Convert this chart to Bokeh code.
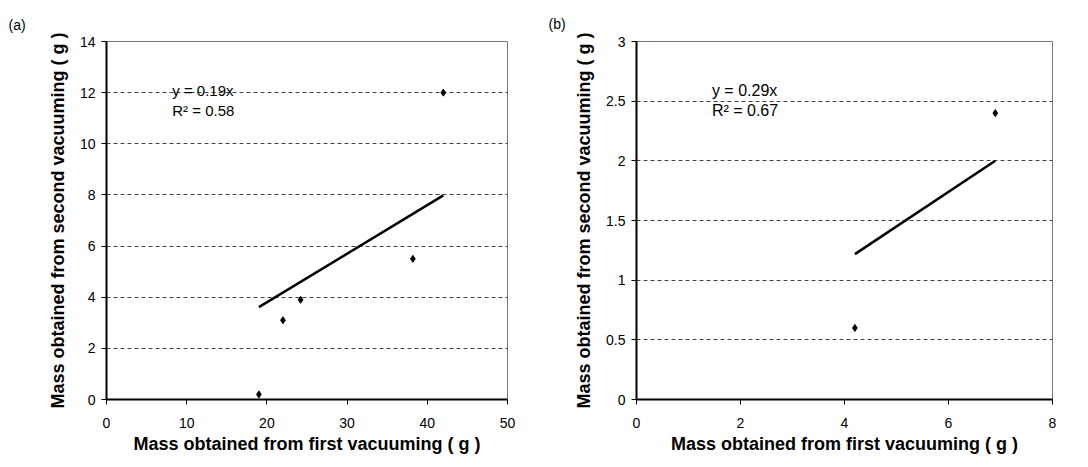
from bokeh.plotting import figure
from bokeh.layouts import row
from bokeh.models import Label, FixedTicker
from bokeh.embed import file_html
from bokeh.resources import INLINE

# Panel (a): first vs second vacuuming mass
a_first = [19.0, 22.0, 24.2, 38.2, 42.0]
a_second = [0.2, 3.1, 3.9, 5.5, 12.0]
a_slope = 0.19
a_r2 = 0.58
a_xticks = [0, 10, 20, 30, 40, 50]
a_yticks = [0, 2, 4, 6, 8, 10, 12, 14]

# Panel (b)
b_first = [4.2, 6.9]
b_second = [0.6, 2.4]
b_slope = 0.29
b_r2 = 0.67
b_xticks = [0, 2, 4, 6, 8]
b_yticks = [0, 0.5, 1, 1.5, 2, 2.5, 3]

FONT = "Liberation Sans"


def panel(xs, ys, slope, r2, xticks, yticks, tag, tag_y, eq_pos, eq_size, width, borders):
    left, right, top, bottom = borders
    p = figure(width=width, height=467, output_backend="svg", toolbar_location=None,
               x_range=(xticks[0], xticks[-1]), y_range=(yticks[0], yticks[-1]),
               min_border_left=left, min_border_right=right,
               min_border_top=top, min_border_bottom=bottom,
               title=tag)
    p.background_fill_color = "white"
    p.border_fill_color = "white"
    p.outline_line_color = "#777777"
    p.outline_line_width = 1

    # panel tag sits in the top-left corner of the canvas
    p.title.align = "left"
    p.title.offset = 8 - left
    p.title.text_font = FONT
    p.title.text_font_size = "14px"
    p.title.text_font_style = "normal"
    p.title.text_color = "black"
    p.title.standoff = top - tag_y - 2

    p.xgrid.grid_line_color = None
    p.ygrid.grid_line_color = "#444444"
    p.ygrid.grid_line_dash = "4 3"
    p.ygrid.grid_line_width = 1

    p.xaxis.ticker = FixedTicker(ticks=xticks)
    p.yaxis.ticker = FixedTicker(ticks=yticks)
    for ax in (p.xaxis, p.yaxis):
        ax.axis_line_color = "black"
        ax.axis_line_width = 2
        ax.major_tick_line_color = "black"
        ax.major_tick_out = 5
        ax.major_tick_in = 0
        ax.minor_tick_line_color = None
        ax.major_label_text_font = FONT
        ax.major_label_text_font_size = "14px"
        ax.major_label_text_color = "black"
        ax.axis_label_text_font = FONT
        ax.axis_label_text_font_size = "18px"
        ax.axis_label_text_font_style = "bold"
        ax.axis_label_text_color = "black"
    p.xaxis.axis_label = "Mass obtained from first vacuuming ( g )"
    p.yaxis.axis_label = "Mass obtained from second vacuuming ( g )"
    p.xaxis.major_label_standoff = 13
    p.xaxis.axis_label_standoff = 3
    p.yaxis.major_label_standoff = 6
    p.yaxis.axis_label_standoff = 9

    # linear trend through the origin over the observed range
    x0, x1 = min(xs), max(xs)
    p.line([x0, x1], [slope * x0, slope * x1], line_color="black", line_width=2.5)
    p.scatter(xs, ys, marker="diamond", size=7, fill_color="black", line_color="black")

    ex, ey = eq_pos
    dy = (yticks[-1] - yticks[0]) * 0.057
    p.add_layout(Label(x=ex, y=ey, text=f"y = {slope}x", text_font=FONT,
                       text_font_size=eq_size, text_color="black",
                       text_baseline="middle"))
    p.add_layout(Label(x=ex, y=ey - dy, text=f"R² = {r2}", text_font=FONT,
                       text_font_size=eq_size, text_color="black",
                       text_baseline="middle"))
    return p


pa = panel(a_first, a_second, a_slope, a_r2, a_xticks, a_yticks, "(a)", 22,
           (8.2, 12.1), "15px", 540, (106, 33, 41, 63))
pb = panel(b_first, b_second, b_slope, b_r2, b_xticks, b_yticks, "(b)", 16,
           (1.45, 2.59), "16px", 548, (96, 36, 38, 68))

layout = row(pa, pb, spacing=0)
open("out.html", "w").write(file_html(layout, INLINE))
